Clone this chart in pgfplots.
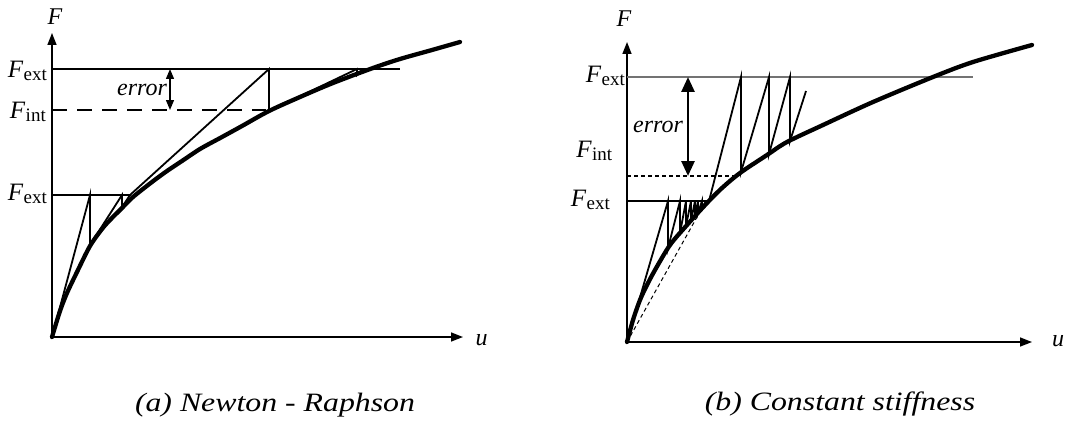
\documentclass[border=0pt]{standalone}
\usepackage{fontspec}
\setmainfont{Liberation Serif}
\usepackage{pgfplots}
\pgfplotsset{compat=1.18}
\usetikzlibrary{arrows.meta}

% F with an upright subscript, as in F_ext and F_int
\newcommand{\Fs}[1]{{\fontsize{25}{25}\selectfont\textit{F}}\kern0.3pt\raisebox{-0.28em}{\fontsize{19}{19}\selectfont #1}}

\pgfplotsset{
  sketch/.style={
    x=1pt, y=1pt, xmin=0, ymin=0,
    axis x line*=bottom, axis y line*=left,
    xtick=\empty, ytick=\empty, clip=false,
    axis line style={line width=1.6pt, -{Triangle[length=12pt,width=9pt]}},
    anchor=south west,
  },
}
\tikzset{
  eqpath/.style={line width=4.3pt, smooth, line cap=round, line join=round},
  iter/.style={line width=1.8pt, line join=miter},
  lbl/.style={font=\fontsize{24}{24}\selectfont\itshape, inner sep=0pt},
}

\begin{document}
\begin{tikzpicture}
\useasboundingbox (0,0) rectangle (1070pt,429pt);

% ---------- (a) Newton - Raphson ----------
\begin{axis}[sketch, at={(52pt,92pt)}, xmax=411, ymax=304]
  % load levels
  \addplot[line width=1.6pt] coordinates {(0,268) (348,268)};
  \addplot[line width=1.6pt] coordinates {(0,142) (79,142)};
  \addplot[line width=2pt, dash pattern=on 15pt off 10pt] coordinates {(0,227) (214,227)};
  % tangent iterations, first increment
  \addplot[iter] coordinates {(0,0) (38,142) (38,92) (70,142) (70,130) (78,142)};
  % tangent iterations, second increment
  \addplot[iter] coordinates {(78,142) (217,268) (217,226) (305,268) (305,262) (311,268)};
  % equilibrium path
  \addplot[eqpath] coordinates {(0,0) (8,26) (15,44) (25,65) (38,91) (50,108) (58,117)
    (70,129) (81,140) (100,155) (115,166) (130,176) (148,188) (170,200) (190,211)
    (217,226) (248,240) (281,254) (321,269) (348,278) (380,287) (408,295)};
  % residual
  \addplot[line width=1.3pt, {Triangle[length=10pt,width=8pt]}-{Triangle[length=10pt,width=8pt]}]
    coordinates {(118,227) (118,268)};
  \node[lbl, anchor=base] at (axis cs:90,242) {error};
  \node[inner sep=0pt, anchor=base east] at (axis cs:-5,259) {\Fs{ext}};
  \node[inner sep=0pt, anchor=base east] at (axis cs:-6,218.7) {\Fs{int}};
  \node[inner sep=0pt, anchor=base east] at (axis cs:-5,136.3) {\Fs{ext}};
  \node[lbl, anchor=base] at (axis cs:3,312) {F};
  \node[lbl, anchor=base] at (axis cs:429.5,-8) {u};
  \node[lbl, anchor=base, font=\fontsize{26.5}{26.5}\selectfont\itshape]
    at (axis cs:223,-74.7) {\scalebox{1.2}[1]{(a) Newton - Raphson}};
\end{axis}

% ---------- (b) Constant stiffness ----------
\begin{axis}[sketch, at={(627pt,87pt)}, xmax=405, ymax=300]
  % load levels
  \addplot[line width=1.3pt, color=black!55] coordinates {(0,265) (346,265)};
  \addplot[line width=1.6pt] coordinates {(0,141) (80,141)};
  \addplot[line width=1.2pt, dash pattern=on 4pt off 3pt] coordinates {(0,166) (110,166)};
  % secant
  \addplot[line width=1pt, dash pattern=on 4pt off 3pt] coordinates {(0,0) (79,141)};
  % constant stiffness iterations, first increment
  \addplot[iter] coordinates {(0,0) (41,141) (41,94) (53,141) (53,109) (59,141) (59,116)
    (64,141) (64,121) (68,141) (68,126) (71,141) (71,129) (75,141) (75,134) (79,141)};
  % constant stiffness iterations, second increment
  \addplot[iter] coordinates {(82,141) (114,265) (114,170) (142,265) (142,188)
    (163,265) (163,201) (179,251)};
  % equilibrium path
  \addplot[eqpath] coordinates {(0,0) (6,22) (13,42) (20,57) (28,72) (43,97) (60,117)
    (80,139) (95,154) (113,169) (140,187) (160,200) (196,217) (246,240) (306,265)
    (346,280) (405,297)};
  % residual
  \addplot[line width=2.7pt, {Triangle[length=15pt,width=13pt]}-{Triangle[length=15pt,width=13pt]}]
    coordinates {(61,166) (61,265)};
  \node[lbl, anchor=base] at (axis cs:31,209.3) {error};
  \node[inner sep=0pt, anchor=base east] at (axis cs:-2,259.3) {\Fs{ext}};
  \node[inner sep=0pt, anchor=base east] at (axis cs:-14.7,184.7) {\Fs{int}};
  \node[inner sep=0pt, anchor=base east] at (axis cs:-17,135.3) {\Fs{ext}};
  \node[lbl, anchor=base] at (axis cs:-3,315.3) {F};
  \node[lbl, anchor=base] at (axis cs:431,-4.7) {u};
  \node[lbl, anchor=base, font=\fontsize{26.5}{26.5}\selectfont\itshape]
    at (axis cs:213,-68) {\scalebox{1.2}[1]{(b) Constant stiffness}};
\end{axis}
\end{tikzpicture}
\end{document}
